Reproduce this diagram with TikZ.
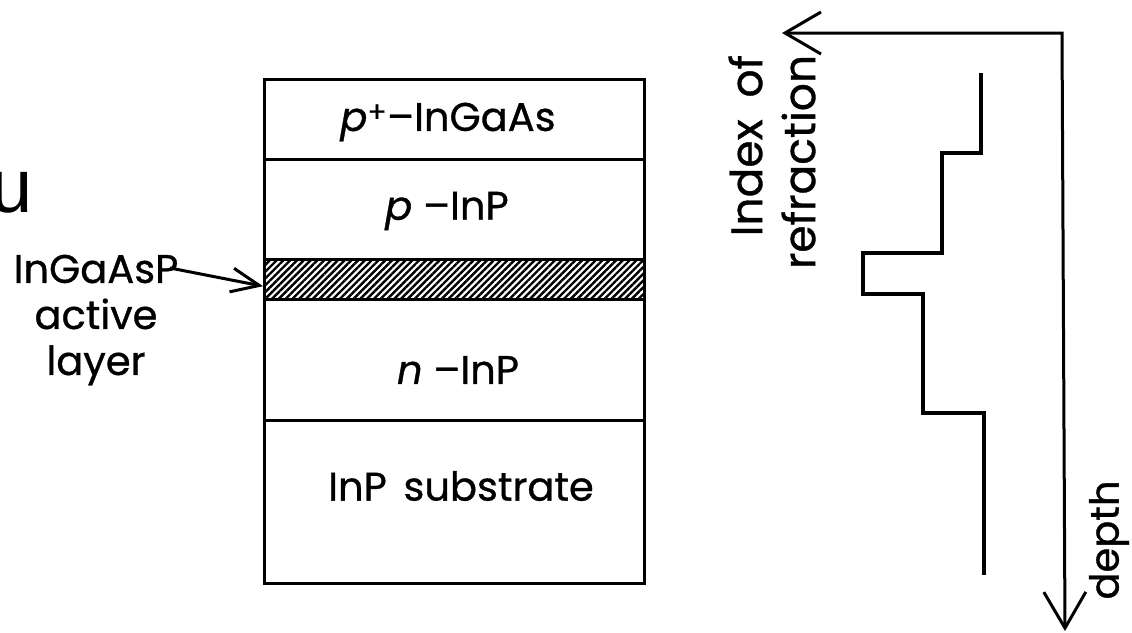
\documentclass[tikz,border=0pt]{standalone}
\usepackage{fontspec}
\setmainfont{Poppins}[FakeBold=0.8]
\newfontfamily\arialfont{Liberation Sans}
\usetikzlibrary{arrows.meta,patterns.meta}
\tikzset{
  bigbarb/.tip={Straight Barb[length=36pt,width=42pt,line width=3pt]},
  smallbarb/.tip={Straight Barb[length=28pt,width=24pt,line width=3pt]}}
\begin{document}
\begin{tikzpicture}[x=1pt,y=-1pt,
  layer/.style={draw,line width=3.2pt,minimum width=380pt,inner sep=0pt,anchor=north west},
  lbl/.style={font=\fontsize{40}{46}\selectfont,inner sep=0pt},
  rlbl/.style={font=\fontsize{44}{53}\selectfont,inner sep=0pt,rotate=90},
  profile/.style={line width=3.2pt,line join=miter}]
\useasboundingbox (0,0) rectangle (1132,632);
\fill[white] (0,0) rectangle (1132,632);

% stray glyph at left edge
\node[font=\arialfont\fontsize{76}{80}\selectfont,inner sep=0pt,anchor=base east] (ustray) at (33,212) {u};

% layers
\node[layer,minimum height=80pt] (l1) at (263,78) {};
\node[layer,minimum height=100pt] (l2) at (263,158) {};
\node[layer,minimum height=40pt,pattern={Lines[angle=45,distance=4.8pt,line width=2.4pt]}] (act) at (263,258) {};
\node[layer,minimum height=121pt] (l4) at (263,298) {};
\node[layer,minimum height=163pt] (l5) at (263,419) {};

\node[lbl] (t1) at (448,122) {\textit{p}\textsuperscript{+}--InGaAs};
\node[lbl] (t2) at (447,211) {\textit{p} --InP};
\node[lbl] (t4) at (458,370) {\textit{n} --InP};
\node[lbl] (t5) at (461,486) {InP\hspace{6pt} substrate};

% left label and arrow
\node[lbl,align=center] (actlbl) at (96,320) {InGaAsP\\active\\layer};
\coordinate (arrstart) at (170,268);
\draw[line width=3pt,-{smallbarb}] (arrstart) -- ([yshift=-7pt]act.west);

% refractive index profile
\coordinate (p0) at (981,73);
\draw[profile] (p0) |- (942,153) |- (863,253) |- (923,294) |- (984,413) -- (984,575);

% axes
\coordinate (nend) at (782,33);
\coordinate (origin) at (1062,33);
\coordinate (dend) at (1065,631);
\draw[line width=3pt,{bigbarb}-{bigbarb}] (nend) -- (origin) -- (dend);

\node[rlbl,align=right] (ilbl) at (772,162) {Index\hspace{10pt} of\\refraction};
\node[font=\fontsize{40}{46}\selectfont,inner sep=0pt,rotate=90] (dlbl) at (1109,540) {depth};
\end{tikzpicture}
\end{document}
